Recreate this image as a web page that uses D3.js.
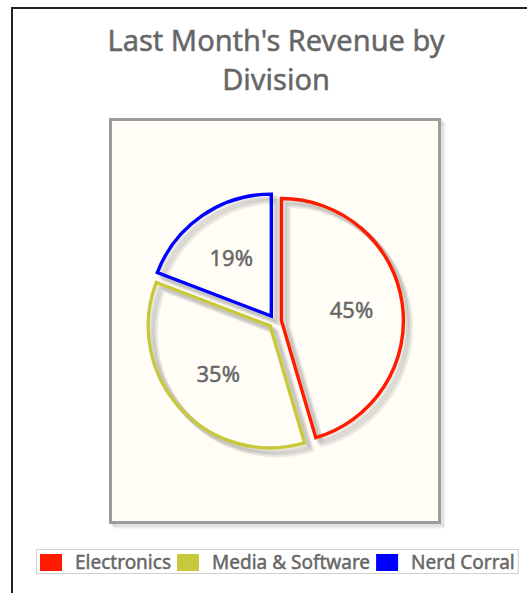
<!DOCTYPE html>
<html>
<head>
<meta charset="utf-8">
<script src="https://cdn.jsdelivr.net/npm/d3@7"></script>
<style>
  html, body { margin: 0; padding: 0; background: #ffffff; }
  svg { display: block; }
  text { font-family: "Noto Sans", "Open Sans", sans-serif; fill: #666666; stroke: #666666; stroke-width: 0.45px; }
</style>
</head>
<body>
<svg id="chart" width="527" height="593"></svg>
<script>
// Revenue share per division
const divisions = ["Electronics", "Media & Software", "Nerd Corral"];
const revenue = [45, 35, 19];
const sliceColors = ["#ff1a00", "#c8c83c", "#0000ff"];
const titleLines = ["Last Month's Revenue by", "Division"];

const W = 527, H = 593;
const svg = d3.select("#chart");

// outer frame
svg.append("rect")
  .attr("x", 12).attr("y", 8)
  .attr("width", W + 20).attr("height", H + 20)
  .attr("fill", "none").attr("stroke", "#222").attr("stroke-width", 2);

// title
const title = svg.append("text")
  .attr("text-anchor", "middle")
  .attr("font-size", 29);
titleLines.forEach((t, i) => {
  title.append("tspan").attr("x", 276).attr("y", 51 + i * 39).text(t);
});

// plot area
const box = { x: 110.5, y: 119.5, w: 329, h: 403 };
[4.5, 3, 1.5].forEach(o => {
  svg.append("rect")
    .attr("x", box.x + o).attr("y", box.y + o)
    .attr("width", box.w).attr("height", box.h)
    .attr("fill", "none").attr("stroke", "#000")
    .attr("stroke-opacity", 0.06).attr("stroke-width", 3);
});
svg.append("rect")
  .attr("x", box.x).attr("y", box.y)
  .attr("width", box.w).attr("height", box.h)
  .attr("fill", "#fffdf6").attr("stroke", "#9c9c9c").attr("stroke-width", 3);

// pie
const cx = box.x + box.w / 2, cy = box.y + box.h / 2 + 0.5;
const R = 122, margin = 6.5;
const pie = d3.pie().sort(null).value(d => d);
const arcs = pie(revenue);
const total = d3.sum(revenue);
const arc = d3.arc().innerRadius(0).outerRadius(R);
const labelArc = d3.arc().innerRadius(R * 0.58).outerRadius(R * 0.58);
const color = d3.scaleOrdinal().domain(divisions).range(sliceColors);

const g = svg.append("g").attr("transform", `translate(${cx},${cy})`);

const slices = g.selectAll("g.slice").data(arcs).join("g")
  .attr("class", "slice")
  .attr("transform", d => {
    const a = (d.startAngle + d.endAngle) / 2;
    return `translate(${margin * Math.sin(a)},${-margin * Math.cos(a)})`;
  });

// soft drop shadow of each outline
[7, 5, 3].forEach(o => {
  slices.append("path")
    .attr("d", arc)
    .attr("transform", `translate(${o},${o})`)
    .attr("fill", "none")
    .attr("stroke", "#000").attr("stroke-opacity", 0.08)
    .attr("stroke-width", 5).attr("stroke-linejoin", "miter");
});

slices.append("path")
  .attr("d", arc)
  .attr("fill", "none")
  .attr("stroke", (d, i) => color(divisions[i]))
  .attr("stroke-width", 3.4)
  .attr("stroke-linejoin", "miter");

slices.append("text")
  .attr("transform", d => `translate(${labelArc.centroid(d)})`)
  .attr("text-anchor", "middle")
  .attr("dy", "0.36em")
  .attr("font-size", 22)
  .text(d => Math.round(d.value / total * 100) + "%");

// legend
const legend = svg.append("g");
const legendBg = legend.append("rect");
let lx = 40;
const ly = 554;
divisions.forEach((name, i) => {
  legend.append("rect")
    .attr("x", lx).attr("y", ly)
    .attr("width", 22).attr("height", 17)
    .attr("fill", color(name));
  const t = legend.append("text")
    .attr("x", lx + 35).attr("y", ly + 15)
    .attr("font-size", 19)
    .text(name);
  lx += 35 + t.node().getComputedTextLength() + 6;
});
legendBg
  .attr("x", 36.5).attr("y", 549.5)
  .attr("width", lx - 39).attr("height", 24)
  .attr("fill", "#fff").attr("stroke", "#d0d0d0").attr("stroke-width", 1);
</script>
</body>
</html>
